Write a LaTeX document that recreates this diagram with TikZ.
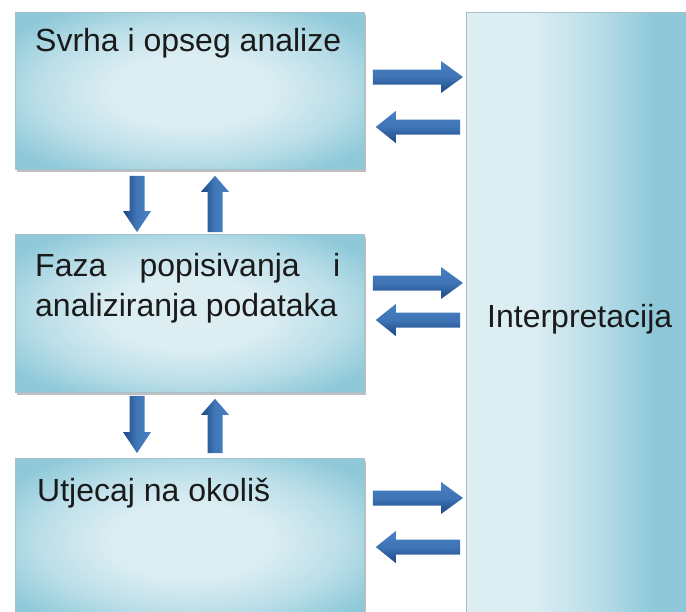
\documentclass[tikz,border=0pt]{standalone}
\usepackage{fontspec}
\setmainfont{Liberation Sans}
\usetikzlibrary{calc,shadows}
\definecolor{boxin}{HTML}{DDEEF3}
\definecolor{boxmid}{HTML}{BADEE8}
\definecolor{boxout}{HTML}{8FC9D9}
\definecolor{boxline}{HTML}{A3C2CB}
\definecolor{arrdark}{HTML}{1C4783}
\definecolor{arrlight}{HTML}{4880C2}
\definecolor{txt}{HTML}{1A1A1A}
\pgfdeclareradialshading{boxshade}{\pgfpoint{0bp}{0bp}}{%
  color(0bp)=(boxin); color(11bp)=(boxin); color(22bp)=(boxmid);
  color(31bp)=(boxout); color(50bp)=(boxout)}
\pgfdeclarehorizontalshading{tallshade}{100bp}{%
  color(0bp)=(boxin); color(38bp)=(boxin); color(52bp)=(boxmid);
  color(64bp)=(boxout); color(100bp)=(boxout)}
\newcommand\harr[3]{% start, end, signed head length
  \path[harrstyle] let \p1=(#1), \p2=(#2) in
    (\x1,\y1-7.5pt) -- (\x2-#3,\y1-7.5pt) -- (\x2-#3,\y1-16pt) -- (\x2,\y1)
    -- (\x2-#3,\y1+16pt) -- (\x2-#3,\y1+7.5pt) -- (\x1,\y1+7.5pt) -- cycle;}
\newcommand\varr[3]{% start, end, signed head length (canvas)
  \path[varrstyle] let \p1=(#1), \p2=(#2) in
    (\x1-7.5pt,\y1) -- (\x1-7.5pt,\y2-#3) -- (\x1-14pt,\y2-#3) -- (\x1,\y2)
    -- (\x1+14pt,\y2-#3) -- (\x1+7.5pt,\y2-#3) -- (\x1+7.5pt,\y1) -- cycle;}
\begin{document}
\begin{tikzpicture}[x=1pt,y=-1pt,
  box/.style={draw=boxline, line width=0.8pt, inner sep=0pt, anchor=north west,
    shading=boxshade,
    drop shadow={shadow xshift=1.5pt, shadow yshift=-2.5pt, fill=black, opacity=0.25}},
  tallbox/.style={draw=boxline, line width=0.8pt, inner sep=0pt, anchor=north west,
    shading=tallshade},
  lbl/.style={font=\fontsize{32}{40}\selectfont, text=txt, inner sep=0pt, anchor=base west},
  harrstyle/.style={top color=arrlight, bottom color=arrdark, middle color=arrlight!80!arrdark},
  varrstyle/.style={left color=arrdark, right color=arrlight, middle color=arrlight!85!arrdark}]
\useasboundingbox (0,0) rectangle (686,611);
\fill[white] (0,0) rectangle (686,611);
% boxes
\node[box, minimum width=349pt, minimum height=157pt] (b1) at (15,12) {};
\node[box, minimum width=349pt, minimum height=158pt] (b2) at (15,234) {};
\node[box, minimum width=349pt, minimum height=165pt] (b3) at (15,458) {};
\node[tallbox, minimum width=240pt, minimum height=615pt] (rb) at (466,12) {};
% texts
\node[lbl] (t1) at ($(b1.north west)+(20,39)$) {Svrha i opseg analize};
\node[lbl] (t2a) at ($(b2.north west)+(20,42)$) {\makebox[305pt][s]{Faza popisivanja i}};
\node[lbl] (t2b) at ($(b2.north west)+(20,82)$) {analiziranja podataka};
\node[lbl] (t3) at ($(b3.north west)+(22,43)$) {Utjecaj na okoliš};
\node[lbl] (t4) at ($(rb.north west)+(21,315)$) {Interpretacija};
% horizontal arrow end points
\coordinate (h1s) at ($(b1.north east)+(8,65)$);
\coordinate (h1e) at ($(b1.north east -| rb.west)+(-3,65)$);
\coordinate (h2s) at ($(b1.north east -| rb.west)+(-6,115)$);
\coordinate (h2e) at ($(b1.north east)+(11,115)$);
\coordinate (h3s) at ($(b2.north east)+(8,49)$);
\coordinate (h3e) at ($(b2.north east -| rb.west)+(-3,49)$);
\coordinate (h4s) at ($(b2.north east -| rb.west)+(-6,86)$);
\coordinate (h4e) at ($(b2.north east)+(11,86)$);
\coordinate (h5s) at ($(b3.north east)+(8,40)$);
\coordinate (h5e) at ($(b3.north east -| rb.west)+(-3,40)$);
\coordinate (h6s) at ($(b3.north east -| rb.west)+(-6,89)$);
\coordinate (h6e) at ($(b3.north east)+(11,89)$);
\harr{h1s}{h1e}{22pt}
\harr{h2s}{h2e}{-20pt}
\harr{h3s}{h3e}{22pt}
\harr{h4s}{h4e}{-20pt}
\harr{h5s}{h5e}{22pt}
\harr{h6s}{h6e}{-20pt}
% vertical arrow end points
\coordinate (v1s) at ($(b1.south west)+(122,6)$);
\coordinate (v1e) at ($(b2.north west)+(122,-2)$);
\coordinate (v2s) at ($(b2.north west)+(200,-2)$);
\coordinate (v2e) at ($(b1.south west)+(200,6)$);
\coordinate (v3s) at ($(b2.south west)+(122,3)$);
\coordinate (v3e) at ($(b3.north west)+(122,-5)$);
\coordinate (v4s) at ($(b3.north west)+(200,-5)$);
\coordinate (v4e) at ($(b2.south west)+(200,6)$);
\varr{v1s}{v1e}{-21pt}
\varr{v2s}{v2e}{16pt}
\varr{v3s}{v3e}{-21pt}
\varr{v4s}{v4e}{16pt}
\end{tikzpicture}
\end{document}
